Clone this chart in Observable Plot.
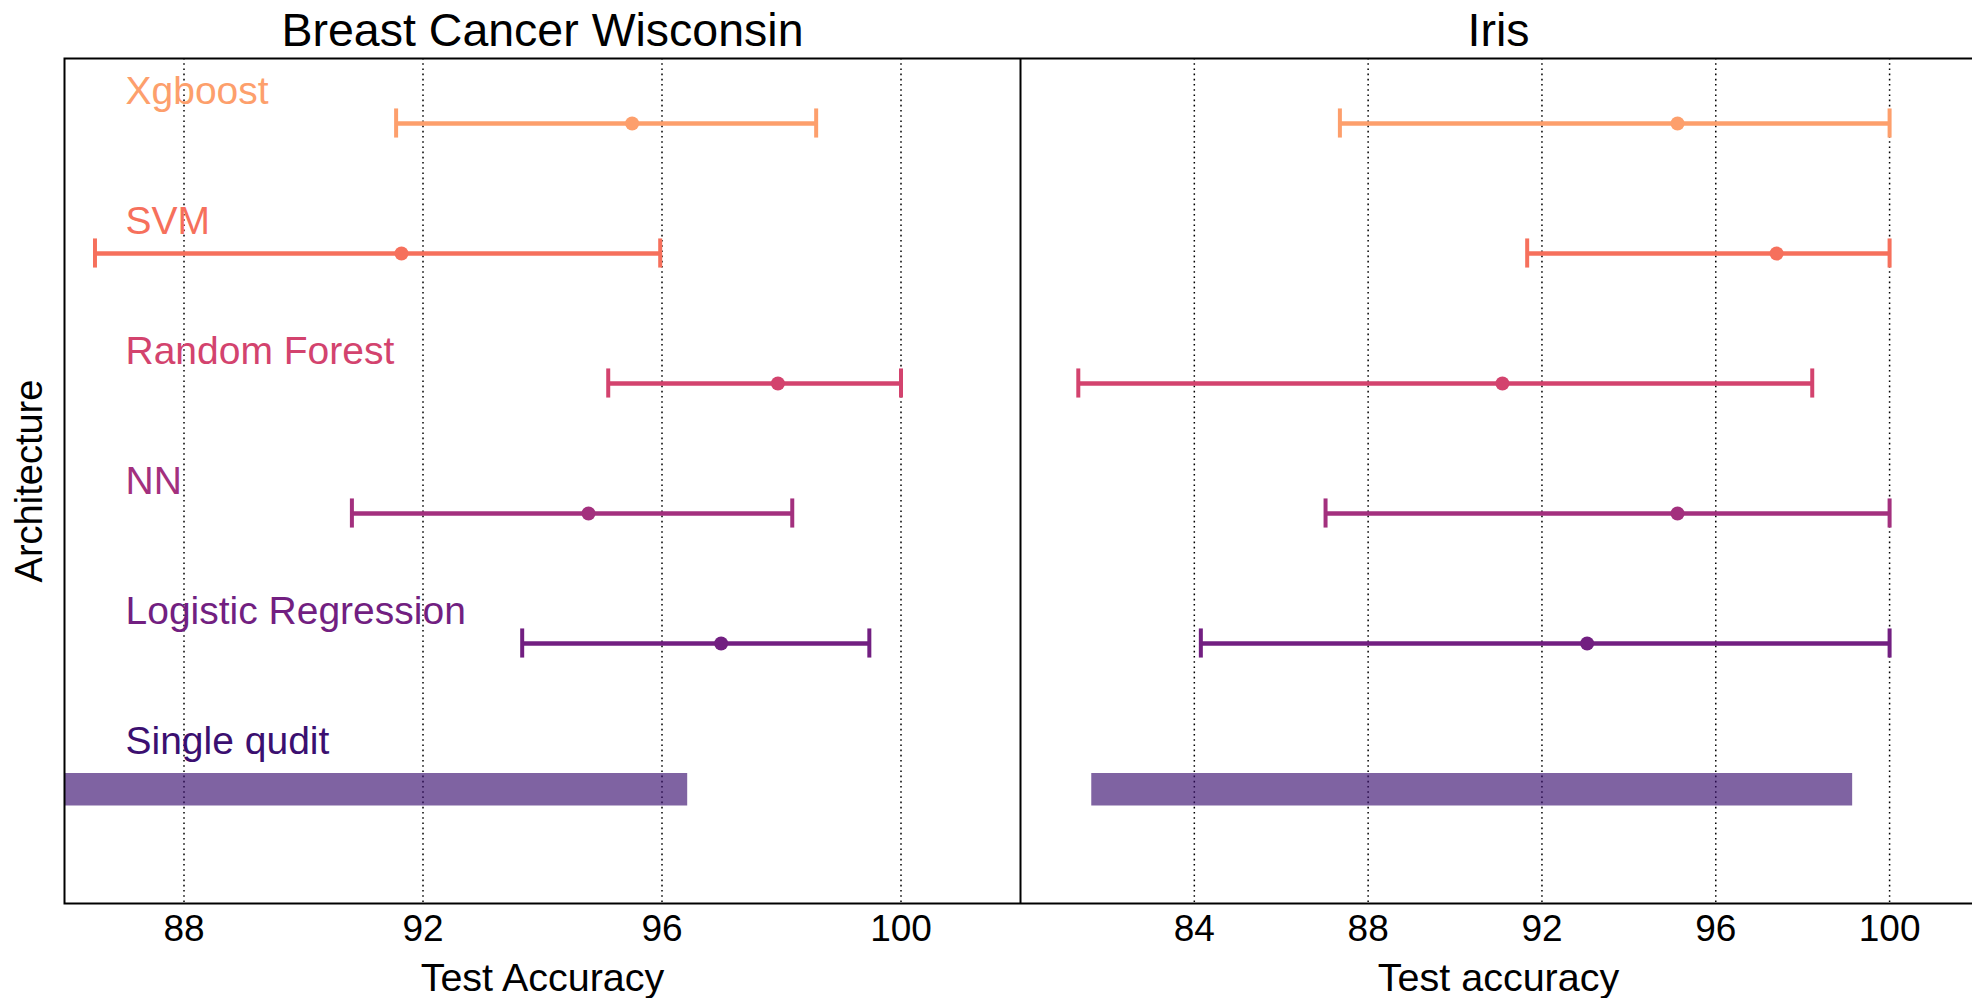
<!DOCTYPE html>
<html>
<head>
<meta charset="utf-8">
<script src="https://cdn.jsdelivr.net/npm/d3@7"></script>
<script src="https://cdn.jsdelivr.net/npm/@observablehq/plot@0.6"></script>
<style>
  html, body { margin: 0; padding: 0; background: #fff; }
  #chart { position: relative; width: 1972px; height: 998px; overflow: hidden; background: #fff; }
  #chart svg { position: absolute; top: 0; max-width: none; }
</style>
</head>
<body>
<div id="chart"></div>
<script>
// Architectures, top to bottom
const models = ["Xgboost", "SVM", "Random Forest", "NN", "Logistic Regression", "Single qudit"];
const rowPos = [5, 4, 3, 2, 1, 0];
const colors = ["#fd9f6c", "#f6705c", "#d3436e", "#a3307e", "#721f81", "#3b0f70"];

// Breast Cancer Wisconsin: test accuracy (%) low / mean / high for the classical models
const bcwLow  = [91.55, 86.51, 95.10, 90.81, 93.66];
const bcwMean = [95.50, 91.64, 97.94, 94.77, 96.99];
const bcwHigh = [98.58, 95.97, 100.0, 98.18, 99.47];
// Single qudit accuracy range
const bcwQudit = [86.0, 96.43];

// Iris
const irisLow  = [87.35, 91.66, 81.33, 87.02, 84.15];
const irisMean = [95.12, 97.40, 91.09, 95.12, 93.04];
const irisHigh = [100.0, 100.0, 98.22, 100.0, 100.0];
const irisQudit = [81.64, 99.15];

const bcwTicks = [88, 92, 96, 100];
const irisTicks = [84, 88, 92, 96, 100];

const FONT = "'Liberation Sans', Arial, Helvetica, sans-serif";
const capHalf = 0.112;   // half height of the error-bar caps, in row units
const barHeight = 0.25;  // thickness of the single-qudit bar, in row units

function panel({title, xLabel, domain, ticks, low, mean, high, qudit, width, marginLeft, first}) {
  const rows = low.map((lo, i) => ({model: models[i], pos: rowPos[i], color: colors[i], lo, mean: mean[i], hi: high[i]}));
  const bar = [{model: models[5], pos: rowPos[5], color: colors[5], lo: qudit[0], hi: qudit[1]}];
  const labels = models.map((m, i) => ({model: m, pos: rowPos[i], color: colors[i]}));
  const marks = [
    Plot.gridX(ticks, {stroke: "#000", strokeOpacity: 1, strokeWidth: 1.5, strokeDasharray: "1.6,3.6"}),
    Plot.rect(bar, {x1: "lo", x2: "hi", y1: d => d.pos - barHeight, y2: "pos", fill: "color", fillOpacity: 0.65}),
    Plot.ruleY(rows, {y: "pos", x1: "lo", x2: "hi", stroke: "color", strokeWidth: 4.5}),
    Plot.ruleX(rows, {x: "lo", y1: d => d.pos - capHalf, y2: d => d.pos + capHalf, stroke: "color", strokeWidth: 4}),
    Plot.ruleX(rows, {x: "hi", y1: d => d.pos - capHalf, y2: d => d.pos + capHalf, stroke: "color", strokeWidth: 4}),
    Plot.dot(rows, {x: "mean", y: "pos", r: 7, fill: "color", stroke: null}),
    Plot.text([title], {frameAnchor: "top", lineAnchor: "bottom", dy: -13, fontSize: 46.5, fill: "#000"}),
    Plot.axisX({ticks, tickSize: 0, tickPadding: 11, fontSize: 37, label: null, fill: "#000"}),
    Plot.axisX({ticks: [], tickSize: 0, label: xLabel, labelAnchor: "center", labelOffset: 87, labelArrow: "none", fontSize: 39.5, fill: "#000"}),
    Plot.frame({stroke: "#000", strokeWidth: 2})
  ];
  if (first) {
    marks.push(Plot.text(labels, {frameAnchor: "left", y: "pos", text: "model", fill: "color", textAnchor: "start", lineAnchor: "bottom", dx: 61, dy: -20, fontSize: 39}));
    marks.push(Plot.axisY({ticks: [], tickSize: 0, label: "Architecture", labelAnchor: "center", labelOffset: 49, labelArrow: "none", fontSize: 38, fill: "#000"}));
  }
  return Plot.plot({
    width, height: 998,
    marginLeft, marginRight: 0, marginTop: 58, marginBottom: 95,
    style: {fontFamily: FONT, background: "#fff", color: "#000", overflow: "hidden"},
    x: {domain, label: null},
    y: {domain: [-1, 5.5], axis: first ? undefined : null, label: null},
    color: {type: "identity"},
    marks
  });
}

const chart = document.getElementById("chart");
const left = panel({title: "Breast Cancer Wisconsin", xLabel: "Test Accuracy", domain: [86, 102], ticks: bcwTicks,
  low: bcwLow, mean: bcwMean, high: bcwHigh, qudit: bcwQudit, width: 1020, marginLeft: 64, first: true});
const right = panel({title: "Iris", xLabel: "Test accuracy", domain: [80, 102], ticks: irisTicks,
  low: irisLow, mean: irisMean, high: irisHigh, qudit: irisQudit, width: 956, marginLeft: 0, first: false});
left.style.left = "0px";
right.style.left = "1020px";
chart.append(left, right);
</script>
</body>
</html>
